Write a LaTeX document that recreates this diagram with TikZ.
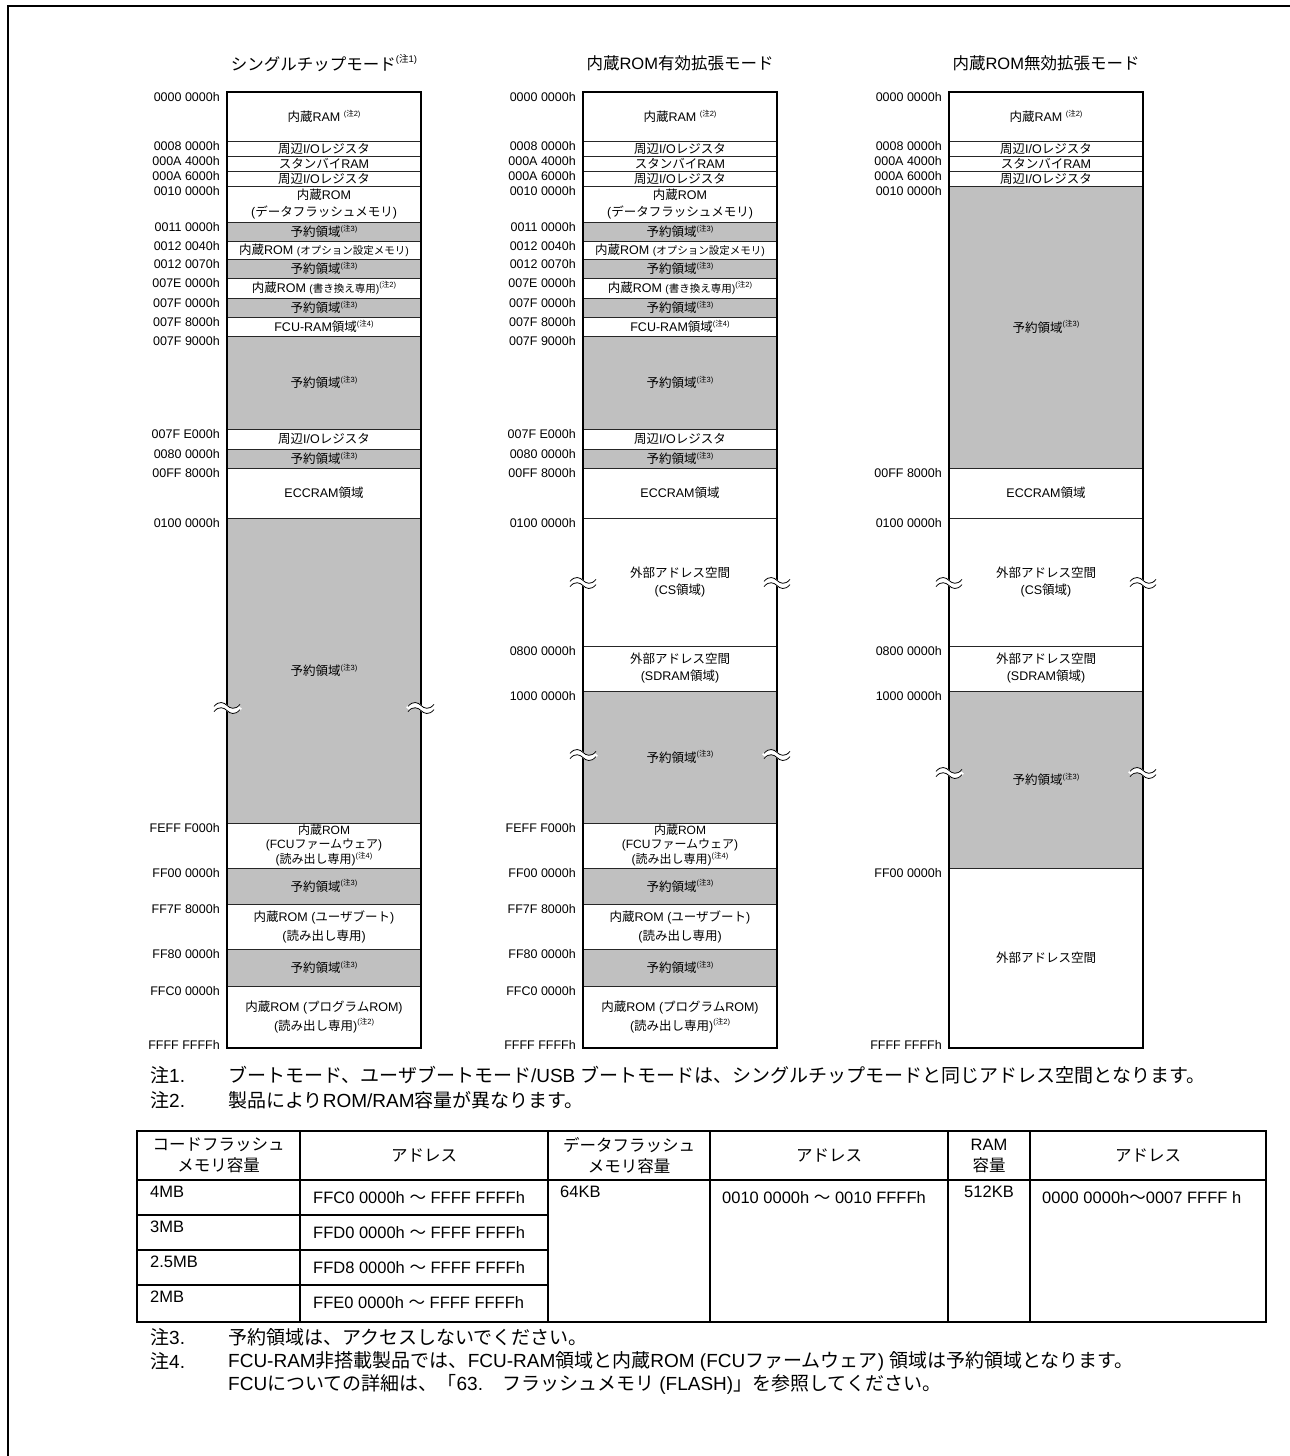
\documentclass[tikz,border=0pt]{standalone}
\usepackage{fontspec}
\setmainfont{Liberation Sans}
\newfontfamily\jpfont{Noto Sans CJK JP}
% switch to the Japanese font for kana / kanji automatically
\XeTeXinterchartokenstate=1
\newXeTeXintercharclass\jpclass
\newcount\jpcode
\newcommand{\setjprange}[2]{%
  \jpcode=#1\relax
  \loop
    \XeTeXcharclass\jpcode=\jpclass
    \advance\jpcode by 1\relax
  \ifnum\jpcode<#2\relax\repeat}
\setjprange{"3000}{"3100}
\setjprange{"4E00}{"A000}
\setjprange{"FF00}{"FFF0}
\XeTeXinterchartoks 0 \jpclass = {\begingroup\jpfont}
\XeTeXinterchartoks 4095 \jpclass = {\begingroup\jpfont}
\XeTeXinterchartoks \jpclass 0 = {\endgroup}
\XeTeXinterchartoks \jpclass 4095 = {\endgroup}
\usetikzlibrary{positioning}
\definecolor{rsvGray}{HTML}{C0C0C0}
\tikzset{map-line/.style={line width=0.7pt, draw=black!85}}
\tikzset{map-frame/.style={line width=1.8pt}}
\tikzset{rsv/.style={fill=rsvGray}}
\tikzset{cell-text/.style={font=\fontsize{12.5}{15}\selectfont, align=center, inner sep=0}}
\tikzset{addr-label/.style={font=\fontsize{12.5}{14}\selectfont, anchor=north east, inner sep=0}}
\tikzset{title-text/.style={font=\fontsize{16.5}{18}\selectfont, inner sep=0}}
\tikzset{note-text/.style={font=\fontsize{19}{20}\selectfont, anchor=west, inner sep=0}}
\tikzset{table-text/.style={font=\fontsize{16.5}{21}\selectfont, inner sep=0}}
\tikzset{tbl-outer/.style={line width=2pt}}
\tikzset{tbl-inner/.style={line width=1.2pt}}
\newcommand{\nt}[1]{\raisebox{0.45em}{\fontsize{7.5}{7.5}\selectfont (注#1)}}
\newcommand{\ntt}[1]{\raisebox{0.45em}{\fontsize{9.5}{9.5}\selectfont (注#1)}}
\newcommand{\region}[6]{%
  \draw[map-line, #5] (#2,#3) rectangle ({#2+194},#4);
  \node[cell-text, #5] (#1) at ({#2+97},{(#3+#4)/2}) {#6};
}
\newcommand{\addr}[3]{\node[addr-label] at ({#1-7},#2) {#3};}
\newcommand{\wavepath}{(-13,1) .. controls (-8,-5) and (-3,-3) .. (0,0) .. controls (3,3) and (8,5) .. (13,-1)}
\newcommand{\mapbreak}[2]{%
  \begin{scope}[shift={(#1,#2)}]
    \draw[white, line width=5pt] \wavepath;
    \draw[line width=0.8pt, yshift=2.6pt] \wavepath;
    \draw[line width=0.8pt, yshift=-2.6pt] \wavepath;
  \end{scope}
}

\begin{document}
\begin{tikzpicture}[x=1pt, y=-1pt]
  \useasboundingbox (0,0) rectangle (1290,1456);
  \draw[line width=2.6pt] (8,1456) -- (8,6) -- (1290,6);

  \node[title-text] (title1) at (324,63) {シングルチップモード\ntt{1}};
  \node[title-text] (title2) at (680,63) {内蔵ROM有効拡張モード};
  \node[title-text] (title3) at (1046,63) {内蔵ROM無効拡張モード};

  % rows of all three modes
  \foreach \c/\m in {227/1, 583/2, 949/3} {
    \region{ram\m}{\c}{92}{141}{}{内蔵RAM \nt{2}}
    \region{ioA\m}{\c}{141}{156}{}{周辺I/Oレジスタ}
    \region{stby\m}{\c}{156}{171}{}{スタンバイRAM}
    \region{ioB\m}{\c}{171}{186}{}{周辺I/Oレジスタ}
    \region{ecc\m}{\c}{468}{518}{}{ECCRAM領域}
    \addr{\c}{92}{0000 0000h}
    \addr{\c}{141}{0008 0000h}
    \addr{\c}{156}{000A 4000h}
    \addr{\c}{171}{000A 6000h}
    \addr{\c}{186}{0010 0000h}
    \addr{\c}{468}{00FF 8000h}
    \addr{\c}{518}{0100 0000h}
    \node[addr-label, anchor=east] at ({\c-7},1045) {FFFF FFFFh};
  }

  % single chip and internal ROM enabled
  \foreach \c/\m in {227/1, 583/2} {
    \region{dflash\m}{\c}{186}{222}{font=\fontsize{12.5}{16.5}\selectfont}{内蔵ROM\\(データフラッシュメモリ)}
    \region{rsvA\m}{\c}{222}{241}{rsv}{予約領域\nt{3}}
    \region{opt\m}{\c}{241}{259}{}{内蔵ROM {\fontsize{10.5}{12}\selectfont (オプション設定メモリ)}}
    \region{rsvB\m}{\c}{259}{278}{rsv}{予約領域\nt{3}}
    \region{rewr\m}{\c}{278}{298}{}{内蔵ROM {\fontsize{10.5}{12}\selectfont (書き換え専用)}\nt{2}}
    \region{rsvC\m}{\c}{298}{317}{rsv}{予約領域\nt{3}}
    \region{fcuram\m}{\c}{317}{336}{}{FCU-RAM領域\nt{4}}
    \region{rsvD\m}{\c}{336}{429}{rsv}{予約領域\nt{3}}
    \region{ioC\m}{\c}{429}{449}{}{周辺I/Oレジスタ}
    \region{rsvE\m}{\c}{449}{468}{rsv}{予約領域\nt{3}}
    \region{fcufw\m}{\c}{823}{868}{font=\fontsize{12}{13.5}\selectfont}{内蔵ROM\\(FCUファームウェア)\\(読み出し専用)\nt{4}}
    \region{rsvG\m}{\c}{868}{904}{rsv}{予約領域\nt{3}}
    \region{uboot\m}{\c}{904}{949}{font=\fontsize{12.5}{19}\selectfont}{内蔵ROM (ユーザブート)\\(読み出し専用)}
    \region{rsvH\m}{\c}{949}{986}{rsv}{予約領域\nt{3}}
    \region{prog\m}{\c}{986}{1048}{font=\fontsize{12.5}{19}\selectfont}{内蔵ROM (プログラムROM)\\(読み出し専用)\nt{2}}
    \addr{\c}{222}{0011 0000h}
    \addr{\c}{241}{0012 0040h}
    \addr{\c}{259}{0012 0070h}
    \addr{\c}{278}{007E 0000h}
    \addr{\c}{298}{007F 0000h}
    \addr{\c}{317}{007F 8000h}
    \addr{\c}{336}{007F 9000h}
    \addr{\c}{429}{007F E000h}
    \addr{\c}{449}{0080 0000h}
    \addr{\c}{823}{FEFF F000h}
    \addr{\c}{868}{FF00 0000h}
    \addr{\c}{904}{FF7F 8000h}
    \addr{\c}{949}{FF80 0000h}
    \addr{\c}{986}{FFC0 0000h}
  }
  \region{rsvF1}{227}{518}{823}{rsv}{予約領域\nt{3}}

  % external address space
  \foreach \c/\m in {583/2, 949/3} {
    \region{cs\m}{\c}{518}{646}{font=\fontsize{12.5}{17}\selectfont}{外部アドレス空間\\(CS領域)}
    \region{sdram\m}{\c}{646}{691}{font=\fontsize{12.5}{17}\selectfont}{外部アドレス空間\\(SDRAM領域)}
    \addr{\c}{646}{0800 0000h}
    \addr{\c}{691}{1000 0000h}
  }
  \region{rsvF2}{583}{691}{823}{rsv}{予約領域\nt{3}}
  \region{rsvW3}{949}{186}{468}{rsv}{予約領域\nt{3}}
  \region{rsvX3}{949}{691}{868}{rsv}{予約領域\nt{3}}
  \region{ext3}{949}{868}{1048}{}{外部アドレス空間}
  \addr{949}{868}{FF00 0000h}

  \foreach \c in {227, 583, 949}
    \draw[map-frame] (\c,92) rectangle ({\c+194},1048);

  \mapbreak{227}{708} \mapbreak{421}{708}
  \mapbreak{583}{583} \mapbreak{777}{583}
  \mapbreak{583}{755} \mapbreak{777}{755}
  \mapbreak{949}{583} \mapbreak{1143}{583}
  \mapbreak{949}{773} \mapbreak{1143}{773}

  % notes
  \node[note-text] (n1) at (150,1075) {注1.};
  \node[note-text] (n1t) at (228,1075) {ブートモード、ユーザブートモード/USB ブートモードは、シングルチップモードと同じアドレス空間となります。};
  \node[note-text] (n2) at (150,1100) {注2.};
  \node[note-text] (n2t) at (228,1100) {製品によりROM/RAM容量が異なります。};

  % capacity table
  \draw[tbl-inner] (137,1180) -- (1266,1180);
  \foreach \y in {1215, 1250, 1285}
    \draw[tbl-inner] (137,\y) -- (548,\y);
  \foreach \x in {300, 548, 710, 948, 1030}
    \draw[tbl-inner] (\x,1131) -- (\x,1322);
  \draw[tbl-outer] (137,1131) rectangle (1266,1322);

  \node[table-text, align=center] (hdCode) at (218.5,1155.5) {コードフラッシュ\\メモリ容量};
  \node[table-text] (hdAddrA) at (424,1155.5) {アドレス};
  \node[table-text, align=center] (hdData) at (629,1155.5) {データフラッシュ\\メモリ容量};
  \node[table-text] (hdAddrB) at (829,1155.5) {アドレス};
  \node[table-text, align=center] (hdRam) at (989,1155.5) {RAM\\容量};
  \node[table-text] (hdAddrC) at (1148,1155.5) {アドレス};
  \foreach \y/\s/\a [count=\i] in {1180/4MB/FFC0, 1215/3MB/FFD0, 1250/2.5MB/FFD8, 1285/2MB/FFE0} {
    \node[table-text, anchor=north west] (cap\i) at (150,{\y+6}) {\s};
    \node[table-text, anchor=west] (adr\i) at (313,{\y+18}) {\a\ 0000h ～ FFFF FFFFh};
  }
  \node[table-text, anchor=north west] (dcap) at (560,1186) {64KB};
  \node[table-text, anchor=west] (dadr) at (722,1198) {0010 0000h ～ 0010 FFFFh};
  \node[table-text, anchor=north] (rcap) at (989,1186) {512KB};
  \node[table-text, anchor=west] (radr) at (1042,1198) {0000 0000h～0007 FFFF h};

  \node[note-text] (n3) at (150,1337) {注3.};
  \node[note-text] (n3t) at (228,1337) {予約領域は、アクセスしないでください。};
  \node[note-text] (n4) at (150,1361) {注4.};
  \node[note-text] (n4t) at (228,1361) {FCU-RAM非搭載製品では、FCU-RAM領域と内蔵ROM (FCUファームウェア) 領域は予約領域となります。};
  \node[note-text] (n4u) at (228,1384) {FCUについての詳細は、「63.　フラッシュメモリ (FLASH)」を参照してください。};
\end{tikzpicture}
\end{document}
